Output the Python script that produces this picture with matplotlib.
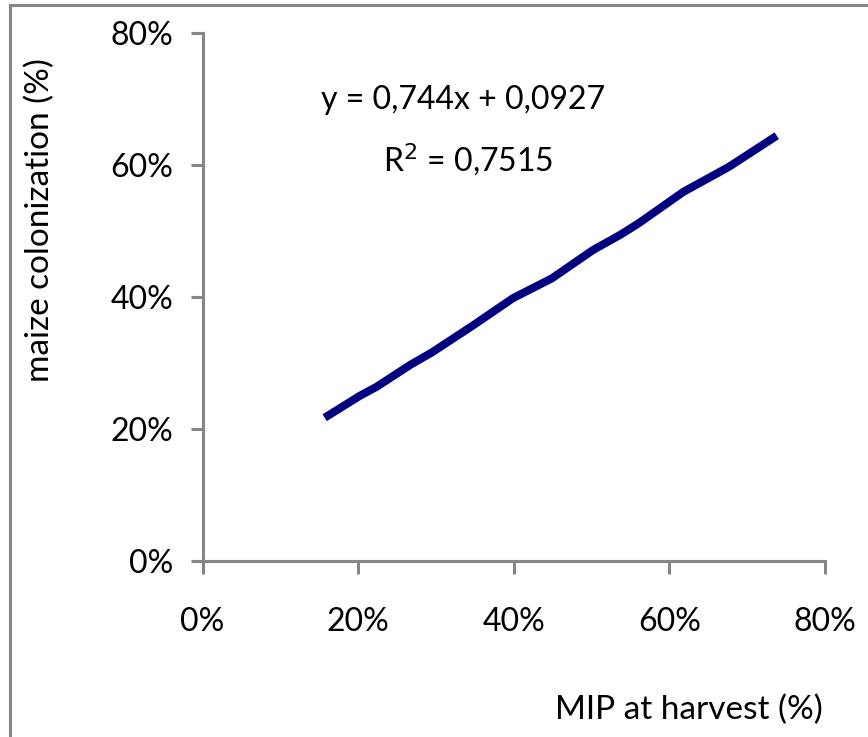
import matplotlib
matplotlib.use("Agg")
import matplotlib.pyplot as plt
from matplotlib.ticker import PercentFormatter
from matplotlib.patches import Rectangle

# Data (fractions)
mip_at_harvest = [0.157, 0.202, 0.224, 0.267, 0.295, 0.348, 0.399, 0.449,
                  0.502, 0.537, 0.560, 0.618, 0.669, 0.678, 0.738]
maize_colonization = [0.217, 0.250, 0.264, 0.297, 0.316, 0.357, 0.398, 0.428,
                      0.471, 0.494, 0.511, 0.559, 0.592, 0.598, 0.644]
x_ticks = [0, 0.2, 0.4, 0.6, 0.8]
y_ticks = [0, 0.2, 0.4, 0.6, 0.8]
equation_text = "y = 0,744x + 0,0927"
r2_text = "R$^2$ = 0,7515"
x_label = "MIP at harvest (%)"
y_label = "maize colonization (%)"

plt.rcParams['font.family'] = ['Lato', 'DejaVu Sans']
FS = 23
GRAY = '#868686'

fig = plt.figure(figsize=(8.68, 7.37), dpi=100)
ax = fig.add_axes([202.5/868, 1-561/737, (825-202.5)/868, (561-32.7)/737])

ax.plot(mip_at_harvest, maize_colonization, color='#000080', lw=5.8,
        solid_capstyle='butt', solid_joinstyle='round')

ax.set_xlim(0, 0.8)
ax.set_ylim(0, 0.8)
ax.set_xticks(x_ticks)
ax.set_yticks(y_ticks)
ax.xaxis.set_major_formatter(PercentFormatter(1.0, decimals=0))
ax.yaxis.set_major_formatter(PercentFormatter(1.0, decimals=0))
for s in ['top', 'right']:
    ax.spines[s].set_visible(False)
for s in ['left', 'bottom']:
    ax.spines[s].set_color(GRAY)
    ax.spines[s].set_linewidth(2.2)
ax.tick_params(axis='both', direction='out', length=9, width=2.2, color=GRAY,
               labelsize=FS, labelcolor='black')
ax.tick_params(axis='x', pad=24)
ax.tick_params(axis='y', pad=12)

ax.text(463/868, 1-100/737, equation_text, transform=fig.transFigure,
        ha='center', va='center', fontsize=FS)
ax.text(468/868, 1-160/737, r2_text, transform=fig.transFigure,
        ha='center', va='center', fontsize=FS)

fig.text(689/868, 1-710/737, x_label, ha='center', va='center', fontsize=24)
fig.text(40/868, 1-220/737, y_label, ha='center', va='center', fontsize=24,
         rotation=90)

# outer chart frame
fig.patches.append(Rectangle((10/868, -0.05), 1.0, 1 - 5/737 + 0.05,
                             transform=fig.transFigure, fill=False,
                             edgecolor=GRAY, lw=2.2))

fig.savefig("out.png", dpi=100)
